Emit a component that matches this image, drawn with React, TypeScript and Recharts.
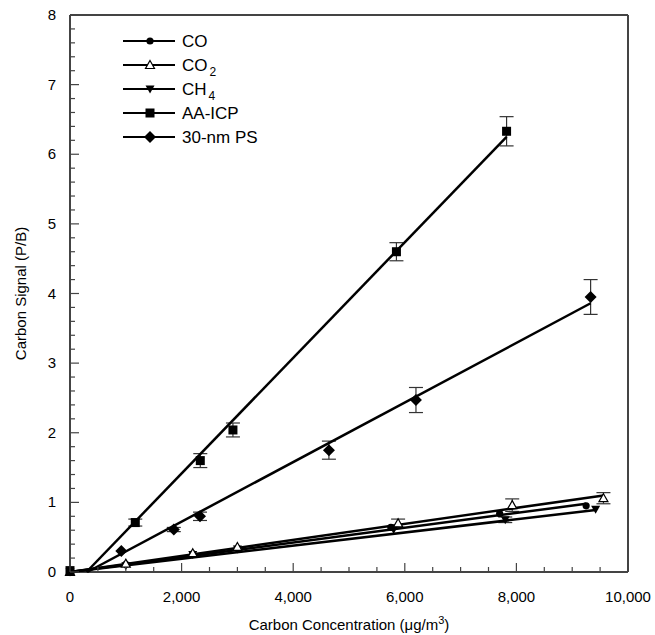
import { ComposedChart, Scatter, XAxis, YAxis, ErrorBar, ReferenceLine, Label } from 'recharts'

// tick positions (minor every 500 / 0.2, labels only on majors)
const xTicks = [0, 500, 1000, 1500, 2000, 2500, 3000, 3500, 4000, 4500, 5000, 5500, 6000, 6500, 7000, 7500, 8000, 8500, 9000, 9500, 10000]
const xMajor = [0, 2000, 4000, 6000, 8000, 10000]
const yTicks = [0, 0.2, 0.4, 0.6, 0.8, 1, 1.2, 1.4, 1.6, 1.8, 2, 2.2, 2.4, 2.6, 2.8, 3, 3.2, 3.4, 3.6, 3.8, 4, 4.2, 4.4, 4.6, 4.8, 5, 5.2, 5.4, 5.6, 5.8, 6, 6.2, 6.4, 6.6, 6.8, 7, 7.2, 7.4, 7.6, 7.8, 8]
const yMajor = [0, 1, 2, 3, 4, 5, 6, 7, 8]

// measured points (x = carbon concentration, y = P/B, err = +/- error bar)
const coPoints = [
  { x: 0, y: 0 }, { x: 1000, y: 0.11 }, { x: 2200, y: 0.26 }, { x: 3000, y: 0.34 },
  { x: 5750, y: 0.64 }, { x: 7700, y: 0.84 }, { x: 9250, y: 0.95 },
]
const co2Points = [
  { x: 0, y: 0 }, { x: 1000, y: 0.12 }, { x: 2200, y: 0.27 }, { x: 3000, y: 0.36 },
  { x: 5880, y: 0.7, err: 0.06 }, { x: 7925, y: 0.96, err: 0.09 }, { x: 9560, y: 1.06, err: 0.08 },
]
const ch4Points = [
  { x: 0, y: 0 }, { x: 1000, y: 0.09 }, { x: 2200, y: 0.25 }, { x: 3000, y: 0.33 },
  { x: 5800, y: 0.61 }, { x: 7800, y: 0.75, err: 0.04 }, { x: 9420, y: 0.9 },
]
const aaPoints = [
  { x: 0, y: 0.02 }, { x: 1170, y: 0.71, err: 0.05 }, { x: 2335, y: 1.6, err: 0.1 },
  { x: 2920, y: 2.04, err: 0.1 }, { x: 5850, y: 4.6, err: 0.13 }, { x: 7824, y: 6.33, err: 0.21 },
]
const psPoints = [
  { x: 920, y: 0.3 }, { x: 1860, y: 0.61, err: 0.03 }, { x: 2330, y: 0.8, err: 0.06 },
  { x: 4640, y: 1.75, err: 0.13 }, { x: 6200, y: 2.47, err: 0.18 }, { x: 9330, y: 3.95, err: 0.25 },
]

// fitted lines (end points)
const coFit = [{ x: 0, y: 0 }, { x: 9250, y: 0.98 }]
const co2Fit = [{ x: 0, y: 0 }, { x: 9560, y: 1.1 }]
const ch4Fit = [{ x: 0, y: 0 }, { x: 9420, y: 0.89 }]
const aaFit = [{ x: 295, y: 0 }, { x: 7824, y: 6.25 }]
const psFit = [{ x: 310, y: 0 }, { x: 9330, y: 3.86 }]

const FONT = 'Liberation Sans, Arial, sans-serif'
const AXIS = '#444'

const Dot = ({ cx, cy }: any) => <circle cx={cx} cy={cy} r={3.6} fill="#000" />
const OpenTri = ({ cx, cy }: any) => (
  <path d={`M${cx},${cy - 4.5}L${cx + 4.5},${cy + 3.5}L${cx - 4.5},${cy + 3.5}Z`} fill="#fff" stroke="#000" strokeWidth={1.2} />
)
const DownTri = ({ cx, cy }: any) => (
  <path d={`M${cx - 4.5},${cy - 3.5}L${cx + 4.5},${cy - 3.5}L${cx},${cy + 4.5}Z`} fill="#000" />
)
const Square = ({ cx, cy }: any) => <rect x={cx - 4.5} y={cy - 4.5} width={9} height={9} fill="#000" />
const Diamond = ({ cx, cy }: any) => (
  <path d={`M${cx},${cy - 6}L${cx + 6},${cy}L${cx},${cy + 6}L${cx - 6},${cy}Z`} fill="#000" />
)
const NoShape = () => <g />

const XTick = ({ x, y, payload }: any) => {
  const major = xMajor.includes(payload.value)
  return (
    <g>
      <line x1={x} x2={x} y1={y} y2={y - (major ? 9 : 5)} stroke={AXIS} strokeWidth={1.2} />
      {major && (
        <text x={x} y={y + 30} textAnchor="middle" fontSize={15} fontFamily={FONT} fill="#000">
          {payload.value.toLocaleString('en-US')}
        </text>
      )}
    </g>
  )
}

const YTick = ({ x, y, payload }: any) => {
  const major = yMajor.includes(payload.value)
  return (
    <g>
      <line x1={x} x2={x + (major ? 9 : 5)} y1={y} y2={y} stroke={AXIS} strokeWidth={1.2} />
      {major && (
        <text x={x - 14} y={y + 5} textAnchor="end" fontSize={15} fontFamily={FONT} fill="#000">
          {payload.value}
        </text>
      )}
    </g>
  )
}

const XTitle = ({ viewBox }: any) => (
  <text x={viewBox.x + viewBox.width / 2} y={viewBox.y + 58} textAnchor="middle" fontSize={15} fontFamily={FONT} fill="#000">
    Carbon Concentration (μg/m<tspan dy={-6} fontSize={11}>3</tspan><tspan dy={6}>)</tspan>
  </text>
)

const YTitle = ({ viewBox }: any) => {
  const cx = 20
  const cy = viewBox.y + viewBox.height / 2
  return (
    <text x={cx} y={cy} transform={`rotate(-90 ${cx} ${cy})`} textAnchor="middle" dominantBaseline="central" fontSize={15} fontFamily={FONT} fill="#000">
      Carbon Signal (P/B)
    </text>
  )
}

const legendRows = [
  { name: 'CO', sub: '', marker: 'dot' },
  { name: 'CO', sub: '2', marker: 'openTri' },
  { name: 'CH', sub: '4', marker: 'downTri' },
  { name: 'AA-ICP', sub: '', marker: 'square' },
  { name: '30-nm PS', sub: '', marker: 'diamond' },
]

const LegendBox = () => (
  <svg width={200} height={130} style={{ position: 'absolute', left: 118, top: 28 }}>
    {legendRows.map((r, i) => {
      const y = 13 + i * 24
      const cx = 32
      return (
        <g key={i}>
          <line x1={5} x2={57} y1={y} y2={y} stroke="#000" strokeWidth={1.8} />
          {r.marker === 'dot' && <Dot cx={cx} cy={y} />}
          {r.marker === 'openTri' && <OpenTri cx={cx} cy={y} />}
          {r.marker === 'downTri' && <DownTri cx={cx} cy={y} />}
          {r.marker === 'square' && <Square cx={cx} cy={y} />}
          {r.marker === 'diamond' && <Diamond cx={cx} cy={y} />}
          <text x={64} y={y + 6} fontSize={17} fontFamily={FONT} fill="#000">
            {r.name}
            {r.sub && <tspan dx={2} dy={5} fontSize={12}>{r.sub}</tspan>}
          </text>
        </g>
      )
    })}
  </svg>
)

const fitLine = { stroke: '#000', strokeWidth: 2.5 }

export default function App() {
  return (
    <div style={{ position: 'absolute', left: 0, top: 0, width: 655, height: 635, background: '#fff' }}>
      <ComposedChart width={655} height={635} margin={{ top: 15, right: 27, bottom: 13, left: 15 }}>
        <XAxis
          type="number"
          dataKey="x"
          domain={[0, 10000]}
          ticks={xTicks}
          interval={0}
          tickSize={0}
          tickMargin={0}
          tick={<XTick />}
          axisLine={{ stroke: AXIS, strokeWidth: 2 }}
          height={50}
        >
          <Label content={XTitle} />
        </XAxis>
        <YAxis
          type="number"
          dataKey="y"
          domain={[0, 8]}
          ticks={yTicks}
          interval={0}
          tickSize={0}
          tickMargin={0}
          tick={<YTick />}
          axisLine={{ stroke: AXIS, strokeWidth: 2 }}
          width={55}
        >
          <Label content={YTitle} />
        </YAxis>
        <ReferenceLine y={8} stroke={AXIS} strokeWidth={2} />
        <ReferenceLine x={10000} stroke={AXIS} strokeWidth={2} />

        <Scatter data={coFit} dataKey="y" line={fitLine} shape={NoShape} isAnimationActive={false} />
        <Scatter data={co2Fit} dataKey="y" line={fitLine} shape={NoShape} isAnimationActive={false} />
        <Scatter data={ch4Fit} dataKey="y" line={fitLine} shape={NoShape} isAnimationActive={false} />
        <Scatter data={aaFit} dataKey="y" line={fitLine} shape={NoShape} isAnimationActive={false} />
        <Scatter data={psFit} dataKey="y" line={fitLine} shape={NoShape} isAnimationActive={false} />

        <Scatter name="CO" data={coPoints} dataKey="y" shape={Dot} isAnimationActive={false} />
        <Scatter name="CH4" data={ch4Points} dataKey="y" shape={DownTri} isAnimationActive={false}>
          <ErrorBar dataKey="err" direction="y" width={7} stroke="#333" strokeWidth={1.2} />
        </Scatter>
        <Scatter name="CO2" data={co2Points} dataKey="y" shape={OpenTri} isAnimationActive={false}>
          <ErrorBar dataKey="err" direction="y" width={7} stroke="#333" strokeWidth={1.2} />
        </Scatter>
        <Scatter name="AA-ICP" data={aaPoints} dataKey="y" shape={Square} isAnimationActive={false}>
          <ErrorBar dataKey="err" direction="y" width={7} stroke="#333" strokeWidth={1.2} />
        </Scatter>
        <Scatter name="30-nm PS" data={psPoints} dataKey="y" shape={Diamond} isAnimationActive={false}>
          <ErrorBar dataKey="err" direction="y" width={7} stroke="#333" strokeWidth={1.2} />
        </Scatter>
      </ComposedChart>
      <LegendBox />
    </div>
  )
}
